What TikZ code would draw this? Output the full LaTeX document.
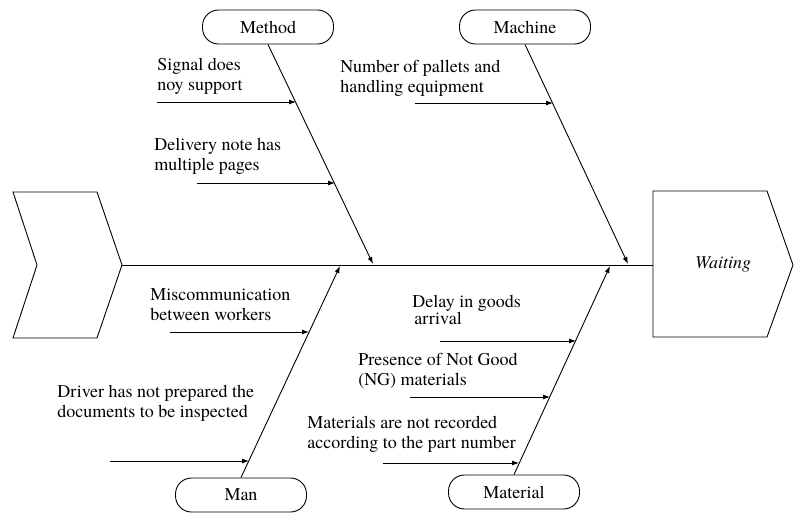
\documentclass[tikz,border=0pt]{standalone}
\usepackage{fontspec}
\setmainfont{texgyretermes}[Extension=.otf,UprightFont=*-regular,ItalicFont=*-italic,BoldFont=*-bold,BoldItalicFont=*-bolditalic]
\usetikzlibrary{arrows.meta}

\begin{document}
\begin{tikzpicture}[x=1pt,y=-1pt,line width=0.9pt,
	font=\rmfamily\fontsize{18}{20}\selectfont,
	cat/.style={draw,rounded corners=16pt,minimum width=131pt,minimum height=34pt,inner sep=0pt},
	cause/.style={anchor=north west,align=left,inner sep=0pt},
	bone/.style={-{Latex[length=7pt,width=5pt]}}]
	\useasboundingbox (0,0) rectangle (795,513);
	% tail and head
	\draw (13,192) -- (97,192) -- (122,265) -- (97,338) -- (13,338) -- (37,265) -- cycle;
	\draw (653,191) -- (767,191) -- (793,265) -- (767,337) -- (653,337) -- cycle;
	\node (effect) at (723,264) {\textit{Waiting}};
	\coordinate (tail) at (122,265);
	\coordinate (head) at (653,265);
	\draw (tail) -- (head);
	% categories
	\node[cat] (method)   at (268,27)  {Method};
	\node[cat] (machine)  at (525,27)  {Machine};
	\node[cat] (man)      at (241,495) {Man};
	\node[cat] (material) at (514,492) {Material};
	\coordinate (mjoin) at (373,264);
	\coordinate (cjoin) at (628,264);
	\coordinate (hjoin) at (340,266);
	\coordinate (tjoin) at (610,266);
	\draw[bone] (method.south)   -- (mjoin);
	\draw[bone] (machine.south)  -- (cjoin);
	\draw[bone] (man.north)      -- (hjoin);
	\draw[bone] (material.north) -- (tjoin);
	% causes
	\node[cause] (sigtxt) at (157,58)  {Signal does\\noy support};
	\node[cause] (dlvtxt) at (154,138) {Delivery note has\\multiple pages};
	\node[cause] (paltxt) at (340,60)  {Number of pallets and\\handling equipment};
	\node[cause] (mistxt) at (150,288) {Miscommunication\\between workers};
	\node[cause] (drvtxt) at (57,385)  {Driver has not prepared the\\documents to be inspected};
	\node[cause,font=\rmfamily\fontsize{18}{17}\selectfont] (dlytxt) at (412,295) {Delay in goods\\\hspace{2pt}arrival};
	\node[cause] (ngmtxt) at (358,353) {Presence of Not Good\\(NG) materials};
	\node[cause] (rectxt) at (307,416) {Materials are not recorded\\according to the part number};
	\coordinate (sig0) at (157,102); \coordinate (sig) at (296,102);
	\coordinate (dlv0) at (197,183); \coordinate (dlv) at (335,183);
	\coordinate (pal0) at (415,103); \coordinate (pal) at (553,103);
	\coordinate (mis0) at (170,332); \coordinate (mis) at (309,332);
	\coordinate (drv0) at (110,461); \coordinate (drv) at (249,461);
	\coordinate (dly0) at (440,341); \coordinate (dly) at (576,341);
	\coordinate (ngm0) at (410,397); \coordinate (ngm) at (550,397);
	\coordinate (rec0) at (383,463); \coordinate (rec) at (519,463);
	\draw[bone] (sig0) -- (sig);
	\draw[bone] (dlv0) -- (dlv);
	\draw[bone] (pal0) -- (pal);
	\draw[bone] (mis0) -- (mis);
	\draw[bone] (drv0) -- (drv);
	\draw[bone] (dly0) -- (dly);
	\draw[bone] (ngm0) -- (ngm);
	\draw[bone] (rec0) -- (rec);
\end{tikzpicture}
\end{document}
